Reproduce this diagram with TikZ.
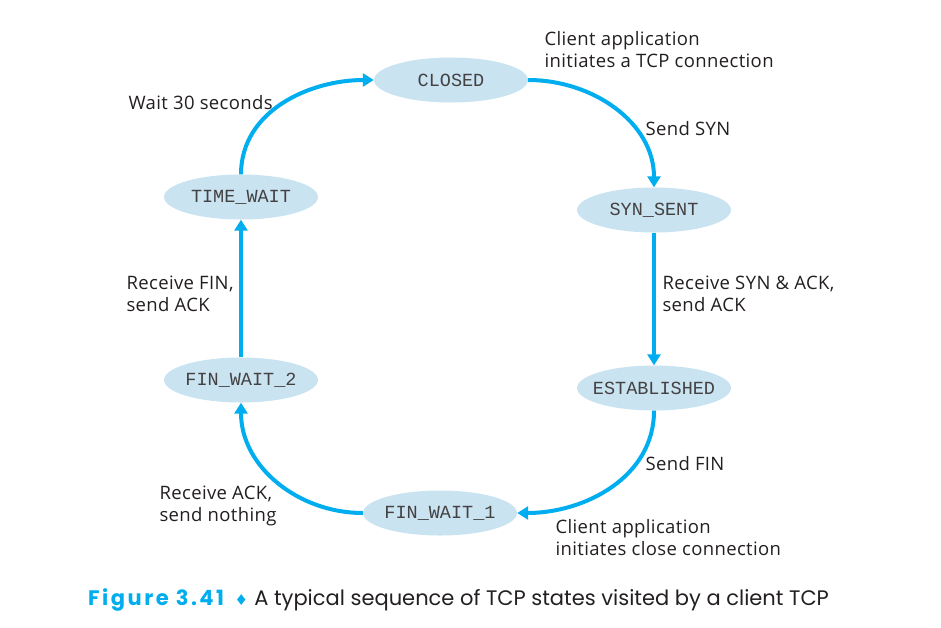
\documentclass[tikz,border=0pt]{standalone}
\usepackage{fontspec}
\setmainfont{Open Sans}[LetterSpace=2]
\newfontfamily\capfont{Poppins}
\newfontfamily\capboldfont{Poppins}[LetterSpace=12]
\newfontfamily\statefont{Liberation Mono}
\newfontfamily\symfont{DejaVu Sans}
\usetikzlibrary{arrows.meta,shapes.geometric}
\definecolor{arrowcyan}{HTML}{00AEEF}
\definecolor{statefill}{HTML}{C9E3F1}
\definecolor{textdark}{HTML}{231F20}
\newcommand\stname[1]{\makebox[0pt]{#1}}
\begin{document}
\begin{tikzpicture}[x=1pt,y=-1pt,
  state/.style={ellipse, fill=statefill, minimum width=154pt, minimum height=45pt, inner sep=0pt,
     font=\statefont\fontsize{18.5}{20}\selectfont, text=textdark!85},
  lbl/.style={anchor=west, align=left, font=\fontsize{18.5}{22}\selectfont, text=textdark},
  conn/.style={draw=arrowcyan, line width=4pt, -{Triangle[length=11pt,width=13pt]}}
]
\useasboundingbox (0,0) rectangle (941,627);
\node[state] (closed) at (451,80) {\stname{CLOSED}};
\node[state] (synsent) at (654,210) {\stname{SYN\_SENT}};
\node[state] (estab) at (654,388) {\stname{ESTABLISHED}};
\node[state] (fw1) at (440,513) {\stname{FIN\_WAIT\_1}};
\node[state] (fw2) at (241,380) {\stname{FIN\_WAIT\_2}};
\node[state] (tw) at (241,197) {\stname{TIME\_WAIT}};

\draw[conn] (closed.east) to[out=0,in=90] (synsent.north);
\draw[conn] (synsent.south) -- (estab.north);
\draw[conn] (estab.south) to[out=-90,in=0] (fw1.east);
\draw[conn] (fw1.west) to[out=180,in=-90] (fw2.south);
\draw[conn] (fw2.north) -- (tw.south);
\draw[conn] (tw.north) to[out=90,in=180] (closed.west);

\node[lbl] (l1) at (541,50) {Client application\\initiates a TCP connection};
\node[lbl] (l2) at (642,129) {Send SYN};
\node[lbl] (l3) at (659,294) {Receive SYN \& ACK,\\send ACK};
\node[lbl] (l4) at (642,464) {Send FIN};
\node[lbl] (l5) at (552,538) {Client application\\initiates close connection};
\node[lbl] (l6) at (156,506) {Receive ACK,\\send nothing};
\node[lbl] (l7) at (123,294) {Receive FIN,\\send ACK};
\node[lbl] (l8) at (125,103) {Wait 30 seconds};

\node[anchor=base west, inner sep=0pt, text=textdark, font=\capfont\fontsize{21}{24}\selectfont] (cap) at (88,605)
  {\textcolor{arrowcyan}{\capboldfont\bfseries Figure 3.41}\hspace{0.5em}{\symfont\textcolor{arrowcyan}{\fontsize{15}{16}\selectfont ♦}}\hspace{0.3em}A typical sequence of TCP states visited by a client TCP};
\end{tikzpicture}
\end{document}
